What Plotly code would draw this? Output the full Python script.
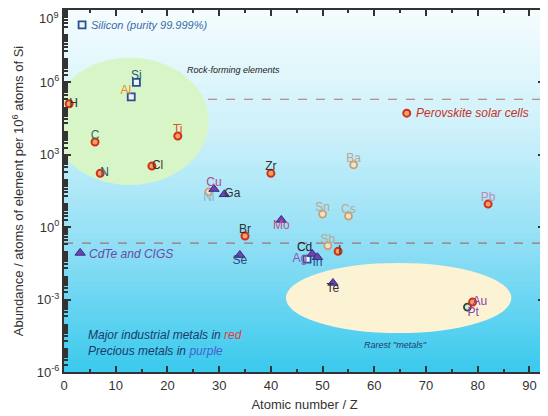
import numpy as np
import plotly.graph_objects as go

# ---------------- data ----------------
elements = ["H", "C", "N", "Al", "Si", "Cl", "Ti", "Ni", "Cu", "Ga", "Se", "Br", "Zr",
            "Mo", "Ag", "Cd", "In", "Sn", "Sb", "Te", "I", "Cs", "Ba", "Pt", "Au", "Pb"]
atomic_number = [1, 6, 7, 13, 14, 17, 22, 28, 29, 31, 34, 35, 40,
                 42, 47, 48, 49, 50, 51, 52, 53, 55, 56, 78, 79, 82]
abundance = [1.3e5, 3.4e3, 1.7e2, 2.5e5, 1.0e6, 3.4e2, 6.0e3, 29, 38, 23, 0.07, 0.43, 1.7e2,
             2.0, 0.048, 0.078, 0.057, 3.5, 0.17, 0.0049, 0.10, 2.9, 3.8e2, 4.9e-4, 7.9e-4, 9.1]

group_silicon = ["Si", "Al", "Ag"]
group_perovskite = ["H", "C", "N", "Cl", "Ti", "Zr", "Br", "I", "Au", "Pb"]
group_cdte = ["Cu", "Ga", "Se", "Mo", "Cd", "In", "Te"]
group_other = ["Ni", "Sn", "Sb", "Cs", "Ba"]
group_pt = ["Pt"]

legend_silicon = "Silicon (purity 99.999%)"
legend_perovskite = "Perovskite solar cells"
legend_cdte = "CdTe and CIGS"

threshold_high = 2.0e5
threshold_low = 0.22

x_ticks = [0, 10, 20, 30, 40, 50, 60, 70, 80, 90]
y_ticks = [1e-6, 1e-3, 1e0, 1e3, 1e6, 1e9]
y_ticktext = ["10<sup>-6</sup>", "10<sup>-3</sup>", "10<sup>0</sup>",
              "10<sup>3</sup>", "10<sup>6</sup>", "10<sup>9</sup>"]

# ---------------- styles ----------------
label_pos = {"H": "middle right", "C": "top center", "N": "middle right", "Al": "top left",
             "Si": "top center", "Cl": "middle right", "Ti": "top center", "Ni": "bottom center",
             "Cu": "top center", "Ga": "middle right", "Se": "bottom center", "Br": "top center",
             "Zr": "top center", "Mo": "bottom center", "Ag": "middle left", "Cd": "top left",
             "In": "bottom center", "Sn": "top center", "Sb": "top center", "Te": "bottom center",
             "I": "middle right", "Cs": "top center", "Ba": "top center", "Pt": "bottom right",
             "Au": "middle right", "Pb": "top center"}
label_col = {"H": "#333333", "C": "#2f6a5a", "N": "#1f5a6a", "Al": "#e58a2a", "Si": "#2a5a78",
             "Cl": "#333333", "Ti": "#d2542c", "Ni": "#8fb2c4", "Cu": "#b4488e", "Ga": "#333333",
             "Se": "#2a4a7a", "Br": "#333333", "Zr": "#333333", "Mo": "#c0508e", "Ag": "#8458b4",
             "Cd": "#222222", "In": "#2a4a8a", "Sn": "#b8a890", "Sb": "#b8a890", "Te": "#333333",
             "I": "#333333", "Cs": "#b8a890", "Ba": "#b8a890", "Pt": "#8a44b4", "Au": "#8a44b4",
             "Pb": "#c08ab4"}

idx = {e: i for i, e in enumerate(elements)}


def pick(group, arr):
    return [arr[idx[e]] for e in group]


FONT = "Liberation Sans, Arial, sans-serif"
fig = go.Figure()

# gradient background strips
top = np.array([246, 253, 254])
mid1 = np.array([205, 241, 251])
mid2 = np.array([140, 222, 245])
bot = np.array([58, 202, 238])
n = 60
for k in range(n):
    t = (k + 0.5) / n  # 0 bottom -> 1 top
    if t > 0.66:
        c = mid1 + (top - mid1) * (t - 0.66) / 0.34
    elif t > 0.33:
        c = mid2 + (mid1 - mid2) * (t - 0.33) / 0.33
    else:
        c = bot + (mid2 - bot) * t / 0.33
    c = c.astype(int)
    fig.add_shape(type="rect", xref="paper", yref="paper", x0=0, x1=1,
                  y0=k / n, y1=(k + 1) / n + 0.002, line_width=0,
                  fillcolor=f"rgb({c[0]},{c[1]},{c[2]})", layer="below")

# ellipses
fig.add_shape(type="circle", xref="x", yref="y", x0=-2.5, x1=28.0, y0=56, y1=1.05e7,
              fillcolor="#d8f5c8", line_width=0, layer="below")
fig.add_shape(type="circle", xref="x", yref="y", x0=42.9, x1=86.5, y0=4.1e-5, y1=3.3e-2,
              fillcolor="#fbf3d3", line_width=0, layer="below")

# dashed threshold lines
for yv in (threshold_high, threshold_low):
    fig.add_shape(type="line", xref="paper", yref="y", x0=0, x1=1, y0=yv, y1=yv,
                  line=dict(color="#a07474", width=1.2, dash="dash"), layer="below")

msize = 7
fig.add_trace(go.Scatter(
    x=pick(group_other, atomic_number), y=pick(group_other, abundance), mode="markers",
    marker=dict(symbol="circle", size=msize, color="#f2e2c8",
                line=dict(color="#c8a078", width=1.8)), showlegend=False, hoverinfo="skip"))
fig.add_trace(go.Scatter(
    x=pick(group_pt, atomic_number), y=pick(group_pt, abundance), mode="markers",
    marker=dict(symbol="circle", size=msize, color="#d8e8d8",
                line=dict(color="#2a4a38", width=1.8)), showlegend=False, hoverinfo="skip"))
fig.add_trace(go.Scatter(
    x=pick(group_silicon, atomic_number), y=pick(group_silicon, abundance), mode="markers",
    name=" ", legend="legend",
    marker=dict(symbol="square", size=msize, color="#eef4fb",
                line=dict(color="#2c4f93", width=1.8))))
fig.add_trace(go.Scatter(
    x=pick(group_perovskite, atomic_number), y=pick(group_perovskite, abundance), mode="markers",
    name=" ", legend="legend2",
    marker=dict(symbol="circle", size=msize, color="#f6a15e",
                line=dict(color="#cf2f1c", width=2))))
fig.add_trace(go.Scatter(
    x=pick(group_cdte, atomic_number), y=pick(group_cdte, abundance), mode="markers",
    name=" ", legend="legend3",
    marker=dict(symbol="triangle-up", size=msize + 2, color="#6a44b4",
                line=dict(color="#3a2a7a", width=1))))

# labels
fig.add_trace(go.Scatter(
    x=atomic_number, y=abundance, mode="text", text=elements,
    textposition=[label_pos[e] for e in elements],
    textfont=dict(family=FONT, size=12, color=[label_col[e] for e in elements]),
    showlegend=False, hoverinfo="skip"))

# legend texts
fig.add_annotation(text=f"<i>{legend_silicon}</i>", xref="paper", yref="paper",
                   x=0.052, y=0.959, xanchor="left", yanchor="middle", showarrow=False,
                   font=dict(family=FONT, size=11, color="#3a6aa8"))
fig.add_annotation(text=f"<i>{legend_perovskite}</i>", xref="paper", yref="paper",
                   x=0.728, y=0.715, xanchor="left", yanchor="middle", showarrow=False,
                   font=dict(family=FONT, size=12, color="#c8302a"))
fig.add_annotation(text=f"<i>{legend_cdte}</i>", xref="paper", yref="paper",
                   x=0.048, y=0.327, xanchor="left", yanchor="middle", showarrow=False,
                   font=dict(family=FONT, size=12, color="#6a4aa8"))

fig.add_annotation(text="<i>Rock-forming elements</i>", xref="paper", yref="paper",
                   x=0.352, y=0.834, xanchor="center", yanchor="middle", showarrow=False,
                   font=dict(family=FONT, size=9, color="#222222"))
fig.add_annotation(text="<i>Rarest \"metals\"</i>", xref="paper", yref="paper",
                   x=0.69, y=0.074, xanchor="center", yanchor="middle", showarrow=False,
                   font=dict(family=FONT, size=9, color="#1a3a6a"))
fig.add_annotation(
    text="<i>Major industrial metals in <span style='color:#e0403a'>red</span></i><br>"
         "<i>Precious metals in <span style='color:#4a5ed0'>purple</span></i>",
    xref="paper", yref="paper", x=0.045, y=0.08, xanchor="left", yanchor="middle",
    align="left", showarrow=False, font=dict(family=FONT, size=12, color="#1a3a6a"))

axis_font = dict(family=FONT, size=13, color="#333333")

# top tick label: drawn as annotation so it stays inside the figure
top_label = y_ticktext[-1]
y_ticktext_axis = y_ticktext[:-1] + [""]
fig.add_annotation(text=top_label, xref="paper", yref="paper", x=0, y=1,
                   xanchor="right", yanchor="top", xshift=-3, yshift=2, showarrow=False,
                   font=axis_font)

minor_y = [m * 10.0 ** d for d in range(-6, 9) for m in range(2, 10)]
leg_common = dict(bgcolor="rgba(0,0,0,0)", itemwidth=30, xanchor="left", yanchor="middle",
                  font=dict(size=11), borderwidth=0)

# page body has an 8px margin; the figure is sized so the plot lands where the original is
fig.update_layout(
    width=540, height=408,
    margin=dict(l=56, r=3, t=2, b=44, autoexpand=False),
    paper_bgcolor="white", plot_bgcolor="#8fdff4",
    font=dict(family=FONT, size=12, color="#333333"),
    legend=dict(x=-0.004, y=0.959, **leg_common),
    legend2=dict(x=0.671, y=0.715, **leg_common),
    legend3=dict(x=-0.008, y=0.329, **leg_common),
    xaxis=dict(range=[0, 93], tickvals=x_ticks, ticks="inside", ticklen=6, tickwidth=1.5,
               tickcolor="#333333", showline=True, linecolor="#333333", linewidth=2,
               mirror="ticks", showgrid=False, zeroline=False, tickfont=axis_font,
               automargin=False,
               minor=dict(dtick=5, ticks="inside", ticklen=3, tickcolor="#333333"),
               title=dict(text="Atomic number / Z", font=axis_font, standoff=8)),
    yaxis=dict(type="log", range=[-6, 9], tickvals=y_ticks, ticktext=y_ticktext_axis,
               ticks="inside", ticklen=7, tickwidth=2, tickcolor="#333333",
               showline=True, linecolor="#333333", linewidth=2, mirror="ticks",
               showgrid=False, zeroline=False, tickfont=axis_font, automargin=False,
               minor=dict(tickvals=minor_y, ticks="inside", ticklen=4, tickcolor="#333333"),
               title=dict(text="Abundance / atoms of element per 10<sup>6</sup> atoms of Si",
                          font=axis_font, standoff=10)),
)

fig.write_html("out.html")
